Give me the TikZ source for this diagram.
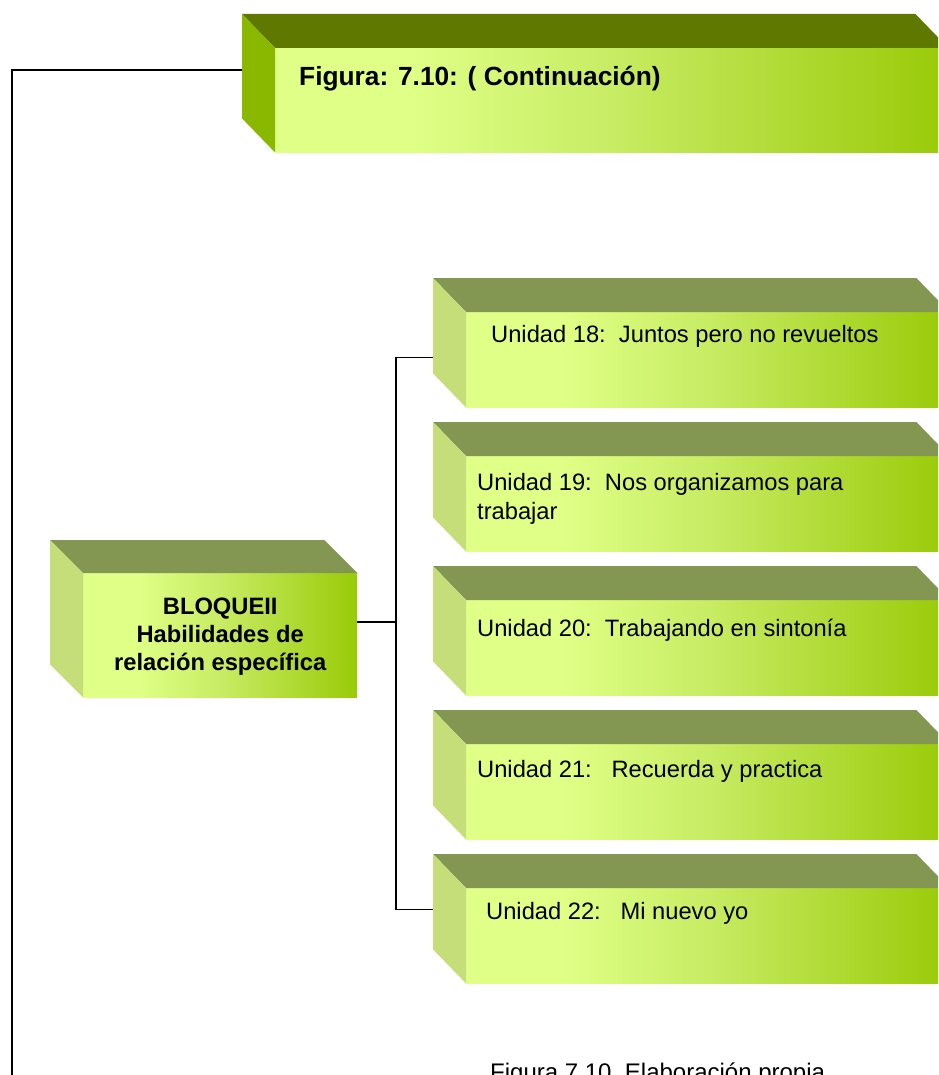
\documentclass[tikz,border=0pt]{standalone}
\usepackage{fontspec}
\setmainfont{Liberation Sans}
\usepackage{tikz}
\usepackage{xcolor}
\usetikzlibrary{positioning}
\definecolor{verdeclaro}{RGB}{223,255,134}
\definecolor{verdemedio}{RGB}{200,236,100}
\definecolor{verdefuerte}{RGB}{153,202,8}
\definecolor{techo}{RGB}{132,151,82}
\definecolor{lado}{RGB}{197,222,122}
\definecolor{techotit}{RGB}{94,120,0}
\definecolor{ladotit}{RGB}{138,184,0}
% solo se ve la franja de 25bp a 75bp
\pgfdeclarehorizontalshading{frente}{100bp}{color(0bp)=(verdeclaro); color(35bp)=(verdeclaro); color(50bp)=(verdemedio); color(75bp)=(verdefuerte); color(100bp)=(verdefuerte)}
\tikzstyle{cara} = [rectangle, anchor=north west, inner sep=0pt, shading=frente]
\tikzstyle{texto} = [font=\fontsize{23.7}{28.5}\selectfont, inner sep=0pt, align=left, anchor=base west]
\tikzstyle{linea} = [line width=1.2pt, black]

\begin{document}
\begin{tikzpicture}[x=1pt, y=-1pt]
    \useasboundingbox (0,0) rectangle (938,1075);
    \clip (0,0) rectangle (938,1075);

    % caja del titulo
    \node[cara, minimum width=673pt, minimum height=104pt] (titulo) at (275,48) {};
    \fill[techotit] (titulo.north west) -- ++(-33,-34) -- ([shift={(-33,-34)}]titulo.north east) -- (titulo.north east) -- cycle;
    \fill[ladotit] (titulo.north west) -- ++(-33,-34) -- ([shift={(-33,-34)}]titulo.south west) -- (titulo.south west) -- cycle;
    \node[texto, font=\fontsize{26.3}{30}\selectfont\bfseries] (tittexto) at (299,86) {Figura: 7.10: ( Continuación)};

    % bloque
    \node[cara, minimum width=274pt, minimum height=124pt] (bloque) at (83,573) {};
    \fill[techo] (bloque.north west) -- ++(-33,-33) -- ([shift={(-33,-33)}]bloque.north east) -- (bloque.north east) -- cycle;
    \fill[lado] (bloque.north west) -- ++(-33,-33) -- ([shift={(-33,-33)}]bloque.south west) -- (bloque.south west) -- cycle;
    \node[texto, align=center, anchor=center, font=\fontsize{23.7}{28}\selectfont\bfseries] (bloquetexto) at ([yshift=-1pt]bloque.center) {BLOQUEII\\Habilidades de\\relación específica};

    % unidades
    \foreach \n/\y/\tx/\ty/\txt in {18/278/491/342/{Unidad 18:\ \ Juntos pero no revueltos},
        19/422/477/519/{Unidad 19:\ \ Nos organizamos para\\trabajar},
        20/566/477/636/{Unidad 20:\ \ Trabajando en sintonía},
        21/710/477/777/{Unidad 21:\ \ \ Recuerda y practica},
        22/854/486/919/{Unidad 22:\ \ \ Mi nuevo yo}}
    {
        \node[cara, minimum width=483pt, minimum height=95pt] (u\n) at (466,\y+34) {};
        \fill[techo] (u\n.north west) -- ++(-33,-34) -- ([shift={(-33,-34)}]u\n.north east) -- (u\n.north east) -- cycle;
        \fill[lado] (u\n.north west) -- ++(-33,-34) -- ([shift={(-33,-34)}]u\n.south west) -- (u\n.south west) -- cycle;
        \node[texto] (t\n) at (\tx,\ty) {\txt};
    }

    % conectores
    \coordinate (enlace) at ([shift={(-33,22)}]titulo.north west);
    \coordinate (codo) at (12,1090);
    \draw[linea] (enlace) -| (codo);

    \coordinate (rama) at (396,622);
    \draw[linea] (bloque.east |- rama) -- (rama);
    \draw[linea] ([shift={(-33,-2)}]u18.west) -| (rama) |- ([shift={(-33,-26)}]u22.west);

    \node[texto, font=\fontsize{24}{28}\selectfont] (pie) at (490,1080) {Figura 7.10 .Elaboración propia.};
\end{tikzpicture}
\end{document}
